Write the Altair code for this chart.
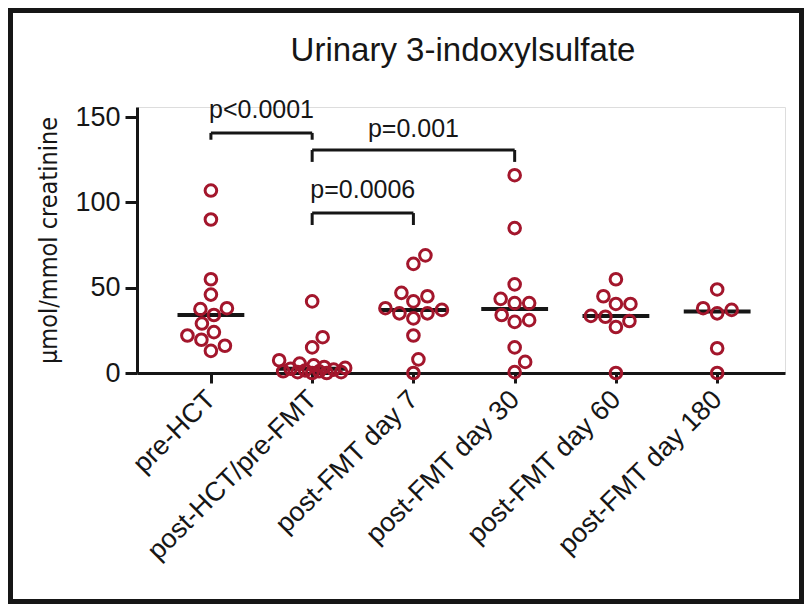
import altair as alt
import pandas as pd
import numpy as np

groups = ["pre-HCT", "post-HCT/pre-FMT", "post-FMT day 7",
          "post-FMT day 30", "post-FMT day 60", "post-FMT day 180"]
pre_hct = [107, 90, 55, 46, 38, 37.5, 34, 29, 24, 22, 19.5, 16, 13]
post_hct = [42, 21, 15, 7.5, 5.5, 4.5, 3.5, 3, 2.5, 2, 1.5, 1, 1, 0.5, 0.5, 0, 0]
day7 = [69, 64, 47, 45, 42, 38, 37, 35, 35, 32, 22, 8, 0]
day30 = [116, 85, 52, 43.5, 41, 41, 34, 31, 30, 15, 6.5, 0.5]
day60 = [55, 45, 40.5, 40.5, 33.5, 33, 30.5, 27, 0]
day180 = [49, 38, 37, 35, 14.5, 0]
series = [pre_hct, post_hct, day7, day30, day60, day180]

cmp_from = [0, 1, 1]
cmp_to = [1, 3, 2]
cmp_y = [140.8, 130.8, 93.8]
cmp_drop = [4, 7, 7]
cmp_label = ["p<0.0001", "p=0.001", "p=0.0006"]
cmp_text_y = [149.6, 138.4, 102.6]

title_text = ["Urinary 3-indoxylsulfate"]

W, H = 648, 266
XDOM = [-0.73, 5.67]
YDOM = [0, 156]
XPX = W / (XDOM[1] - XDOM[0])
YPX = H / (YDOM[1] - YDOM[0])


def swarm(vals, d=14.5, maxw=33.0):
    placed = []
    offs = [0.0] * len(vals)
    cands = sorted(np.arange(-maxw, maxw + 0.01, 0.5), key=lambda c: (abs(c), -c))
    for i in sorted(range(len(vals)), key=lambda k: vals[k]):
        y = vals[i] * YPX
        best, bestc, bestpen = None, 0.0, None
        for c in cands:
            pen = max([d - np.hypot(c - px, y - py) for px, py in placed] + [0])
            if pen <= 0:
                best = c
                break
            if bestpen is None or pen < bestpen - 1e-9:
                bestpen, bestc = pen, c
        if best is None:
            best = bestc
        offs[i] = best
        placed.append((best, y))
    return offs


rows = []
for gi, vals in enumerate(series):
    for v, o in zip(vals, swarm(vals)):
        rows.append({"gi": gi, "group": groups[gi], "value": v, "pos": gi + o / XPX})
pts = pd.DataFrame(rows)

brk = pd.DataFrame({"a": cmp_from, "b": cmp_to, "y": cmp_y, "drop": cmp_drop,
                    "label": cmp_label, "ty": cmp_text_y})

FONT = "Liberation Sans"
INK = "#161616"
RED = "#A3162C"

label_expr = "[" + ",".join("'" + g + "'" for g in groups) + "][datum.value]"

xscale = alt.Scale(domain=XDOM, nice=False, zero=False)
yscale = alt.Scale(domain=YDOM, nice=False)

xaxis = alt.Axis(values=list(range(len(groups))), labelExpr=label_expr, title=None,
                 labelAngle=-45, labelAlign="right", labelBaseline="middle",
                 labelFontSize=27, labelFont=FONT, labelColor=INK, labelPadding=12,
                 labelLimit=500, labelOverlap=False,
                 tickSize=10, tickWidth=3, tickColor=INK, domainWidth=3,
                 domainColor=INK, grid=False)
yaxis = alt.Axis(values=[0, 50, 100, 150], title="µmol/mmol creatinine",
                 titleFont="Liberation Sans Narrow, DejaVu Sans Condensed, Liberation Sans",
                 titleFontSize=25, titleFontWeight="normal", titleColor=INK,
                 titlePadding=13,
                 labelFontSize=27, labelFont=FONT, labelColor=INK, labelPadding=5,
                 tickSize=12, tickWidth=3, tickColor=INK, domainWidth=3,
                 domainColor=INK, grid=False)

points = alt.Chart(pts).mark_point(shape="circle", filled=False, size=135,
                                   strokeWidth=3, color=RED, opacity=1).encode(
    x=alt.X("pos:Q", scale=xscale, axis=xaxis),
    y=alt.Y("value:Q", scale=yscale, axis=yaxis),
)

medians = alt.Chart(pts).transform_aggregate(
    med="median(value)", groupby=["gi"]
).transform_calculate(
    x1="datum.gi - 0.33", x2="datum.gi + 0.33"
).mark_rule(color=INK, strokeWidth=4).encode(
    x=alt.X("x1:Q", scale=xscale), x2="x2:Q", y=alt.Y("med:Q", scale=yscale)
)

hbar = alt.Chart(brk).mark_rule(color=INK, strokeWidth=3).encode(
    x=alt.X("a:Q", scale=xscale), x2="b:Q", y=alt.Y("y:Q", scale=yscale)
)
ldrop = alt.Chart(brk).transform_calculate(y2="datum.y - datum.drop").mark_rule(
    color=INK, strokeWidth=3).encode(
    x=alt.X("a:Q", scale=xscale), y=alt.Y("y:Q", scale=yscale), y2="y2:Q"
)
rdrop = alt.Chart(brk).transform_calculate(y2="datum.y - datum.drop").mark_rule(
    color=INK, strokeWidth=3).encode(
    x=alt.X("b:Q", scale=xscale), y=alt.Y("y:Q", scale=yscale), y2="y2:Q"
)
ptext = alt.Chart(brk).transform_calculate(mid="(datum.a + datum.b) / 2").mark_text(
    font=FONT, fontSize=25, color=INK, baseline="alphabetic", align="center").encode(
    x=alt.X("mid:Q", scale=xscale), y=alt.Y("ty:Q", scale=yscale), text="label:N"
)

title = alt.Chart(pd.DataFrame({"t": title_text})).mark_text(
    font=FONT, fontSize=33, color=INK, baseline="alphabetic", align="center").encode(
    x=alt.value(W / 2 + 2), y=alt.value(-46), text="t:N"
)

frame = alt.Chart(pd.DataFrame({"k": [0]})).mark_rect(
    filled=False, stroke=INK, strokeWidth=5).encode(
    x=alt.value(-126.5), x2=alt.value(664.5), y=alt.value(-96.5), y2=alt.value(494.5)
)

chart = alt.layer(frame, title, hbar, ldrop, rdrop, ptext, medians, points).properties(
    width=W, height=H,
    autosize=alt.AutoSizeParams(type="none"),
    padding={"left": 129, "top": 99, "right": 19, "bottom": 231},
).configure_view(stroke=None).configure(background="white")

chart.save("out.html", embed_options={"renderer": "svg", "actions": False})
